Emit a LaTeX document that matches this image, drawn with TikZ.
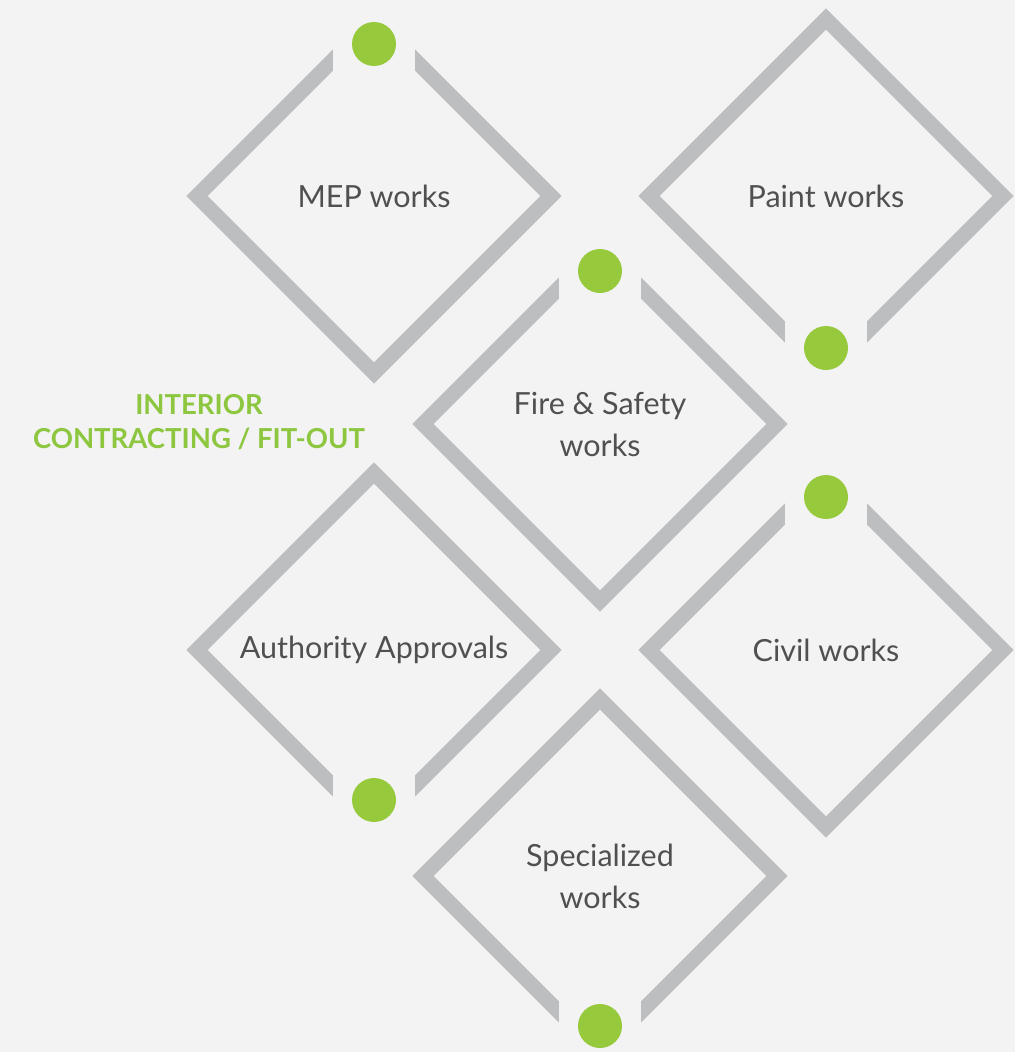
\documentclass[tikz,border=0pt]{standalone}
\usepackage{fontspec}
\setmainfont{Lato}
\definecolor{bggray}{HTML}{F3F3F3}
\definecolor{bandgray}{HTML}{BDBEC0}
\definecolor{dotgreen}{HTML}{97C93D}
\definecolor{titlegreen}{HTML}{8DC63F}
\definecolor{textgray}{HTML}{505050}

\begin{document}
\begin{tikzpicture}[x=1pt, y=-1pt,
  band/.style={draw=bandgray, line width=15pt, line join=miter},
  gapfill/.style={fill=bggray},
  gdot/.style={fill=dotgreen},
  worktext/.style={text=textgray, align=center, font=\fontsize{30.5}{42}\selectfont},
  titletext/.style={text=titlegreen, align=center, font=\fontsize{27.5}{34}\selectfont\bfseries}]
\path[use as bounding box, fill=bggray] (0,0) rectangle (1015,1052);
% MEP works (gap on top)
\draw[band] (374,19) -- (551,196) -- (374,373) -- (197,196) -- cycle;
\fill[gapfill] (333,0) rectangle (415,76);
\fill[gdot] (374,44) circle[radius=22];
\node[worktext] (mep) at (374,196) {MEP works};
% Paint works (gap at bottom)
\draw[band] (826,19) -- (1003,196) -- (826,373) -- (649,196) -- cycle;
\fill[gapfill] (785,316) rectangle (867,400);
\fill[gdot] (826,348) circle[radius=22];
\node[worktext] (paint) at (826,196) {Paint works};
% Fire & Safety works (gap on top)
\draw[band] (600,247) -- (777,424) -- (600,601) -- (423,424) -- cycle;
\fill[gapfill] (559,224) rectangle (641,304);
\fill[gdot] (600,271) circle[radius=22];
\node[worktext] (fire) at (600,424) {Fire \& Safety\\works};
% Authority Approvals (gap at bottom)
\draw[band] (374,473) -- (551,650) -- (374,827) -- (197,650) -- cycle;
\fill[gapfill] (333,770) rectangle (415,852);
\fill[gdot] (374,800) circle[radius=22];
\node[worktext] (authority) at (374,650) {Authority Approvals};
% Civil works (gap on top)
\draw[band] (826,473) -- (1003,650) -- (826,827) -- (649,650) -- cycle;
\fill[gapfill] (785,450) rectangle (867,530);
\fill[gdot] (826,497) circle[radius=22];
\node[worktext] (civil) at (826,650) {Civil works};
% Specialized works (gap at bottom)
\draw[band] (600,699) -- (777,876) -- (600,1053) -- (423,876) -- cycle;
\fill[gapfill] (559,995) rectangle (641,1060);
\fill[gdot] (600,1026) circle[radius=22];
\node[worktext] (special) at (600,876) {Specialized\\works};
% title
\node[titletext] (title) at (199,422) {INTERIOR\\CONTRACTING / FIT-OUT};
\end{tikzpicture}
\end{document}
